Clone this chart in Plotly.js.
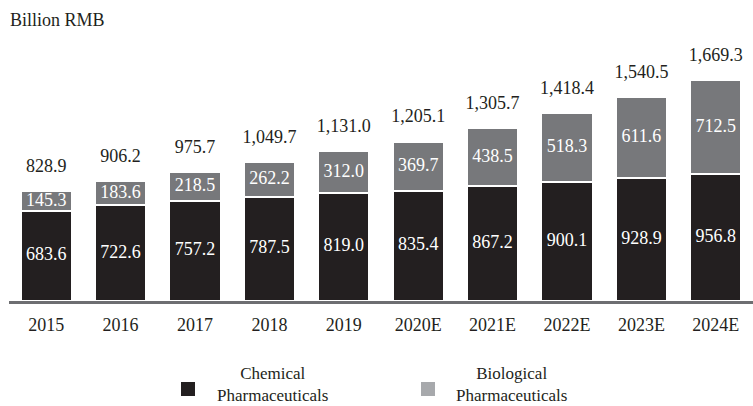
<!DOCTYPE html>
<html>
<head>
<meta charset="utf-8">
<script src="https://cdn.plot.ly/plotly-3.0.1.min.js"></script>
<style>html,body{margin:0;padding:0;background:#fff;}#chart{width:753px;height:406px;}</style>
</head>
<body>
<div id="chart"></div>
<script>
const years = ["2015","2016","2017","2018","2019","2020E","2021E","2022E","2023E","2024E"];
const chemical = [683.6,722.6,757.2,787.5,819.0,835.4,867.2,900.1,928.9,956.8];
const biological = [145.3,183.6,218.5,262.2,312.0,369.7,438.5,518.3,611.6,712.5];
const totals = [828.9,906.2,975.7,1049.7,1131.0,1205.1,1305.7,1418.4,1540.5,1669.3];
const seriesNames = ["Chemical", "Biological"];
const legendSecondLine = "Pharmaceuticals";
const unitLabel = "Billion RMB";

const FONT = "'Liberation Serif', 'Times New Roman', serif";
const BLACK = "#231f20";
const GRAY = "#77787b";
const LEGEND_GRAY = "#a7a9ac";

const fmt = v => v.toLocaleString("en-US", {minimumFractionDigits:1, maximumFractionDigits:1});

const traces = [
  {type:"bar", x:years, y:chemical, name:seriesNames[0],
   marker:{color:BLACK, line:{color:"#ffffff", width:2}}, hoverinfo:"skip"},
  {type:"bar", x:years, y:biological, name:seriesNames[1],
   marker:{color:GRAY, line:{color:"#ffffff", width:2}}, hoverinfo:"skip"},
  {type:"scatter", mode:"text", x:years, y:chemical.map(v=>v/2), text:chemical.map(fmt),
   textposition:"middle center", textfont:{family:FONT, size:18, color:"#ffffff"},
   cliponaxis:false, hoverinfo:"skip"},
  {type:"scatter", mode:"text", x:years, y:biological.map((v,i)=>chemical[i]+v/2), text:biological.map(fmt),
   textposition:"middle center", textfont:{family:FONT, size:18, color:"#ffffff"},
   cliponaxis:false, hoverinfo:"skip"},
  {type:"scatter", mode:"markers+text", x:years, y:totals, text:totals.map(fmt),
   marker:{size:22, opacity:0}, textposition:"top center", textfont:{family:FONT, size:18, color:BLACK},
   cliponaxis:false, hoverinfo:"skip"}
];

const annotations = [];
annotations.push({xref:"paper", yref:"paper", x:-1/744, y:1+(63-20)/238, xanchor:"left", yanchor:"middle",
  text:unitLabel, showarrow:false, font:{family:FONT, size:18, color:BLACK}});

const legendItems = [
  {lines:[seriesNames[0], legendSecondLine], cx:272.5, color:BLACK, sx:181},
  {lines:[seriesNames[1], legendSecondLine], cx:512, color:LEGEND_GRAY, sx:421}
];
const px2x = px => (px-9)/744;
const py2y = py => (301-py)/238;
const shapes = [];
legendItems.forEach(it=>{
  annotations.push({xref:"paper", yref:"paper", x:px2x(it.cx), y:py2y(384), xanchor:"center", yanchor:"middle",
    align:"center", text:it.lines.join("<br>"), showarrow:false, font:{family:FONT, size:17, color:BLACK}});
  shapes.push({type:"rect", xref:"paper", yref:"paper", x0:px2x(it.sx), x1:px2x(it.sx+14),
    y0:py2y(396), y1:py2y(382), fillcolor:it.color, line:{width:0}});
});

const layout = {
  width:753, height:406,
  margin:{l:9, r:0, t:63, b:105},
  paper_bgcolor:"#ffffff", plot_bgcolor:"#ffffff",
  barmode:"stack", bargap:0.31,
  font:{family:FONT, size:18, color:BLACK},
  showlegend:false,
  xaxis:{type:"category", range:[-0.5, years.length-0.5], autorange:false,
    showline:true, linecolor:"#6d6e71", linewidth:2.5, ticks:"",
    ticklabelstandoff:6, tickfont:{family:FONT, size:18, color:BLACK}, showgrid:false, zeroline:false},
  yaxis:{range:[0,1800], autorange:false, visible:false, showgrid:false, zeroline:false},
  annotations:annotations, shapes:shapes
};
Plotly.newPlot("chart", traces, layout, {displayModeBar:false});
</script>
</body>
</html>
